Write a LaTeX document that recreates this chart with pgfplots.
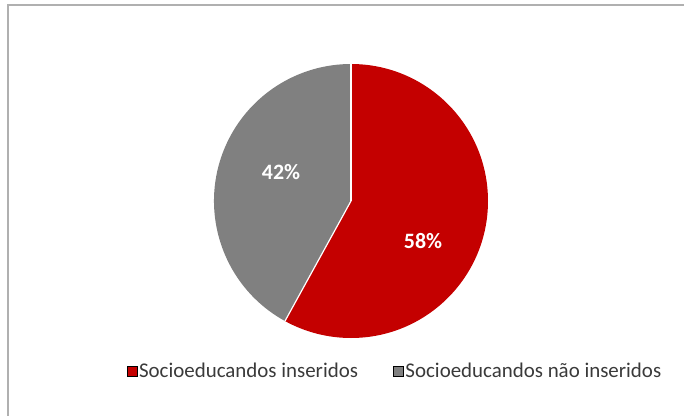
\documentclass[border=0pt]{standalone}
\usepackage{pgfplots}
\pgfplotsset{compat=1.18}
\usepackage{pgfplotstable}
\usepackage{fontspec}
\setmainfont{Carlito}
\definecolor{pieRed}{HTML}{C40000}
\definecolor{pieGray}{HTML}{808080}
\definecolor{frameGray}{HTML}{B0B0B0}
\definecolor{txtGray}{HTML}{3A3A3A}
\pgfplotstableread{
label value
inseridos 58
naoinseridos 42
}\piedata
\begin{document}
\begin{tikzpicture}
\pgfplotstablegetelem{0}{value}\of\piedata \edef\va{\pgfplotsretval}
\pgfplotstablegetelem{1}{value}\of\piedata \edef\vb{\pgfplotsretval}
\pgfmathsetmacro{\aend}{90-3.6*\va}
\pgfmathsetmacro{\bend}{\aend-3.6*\vb}
\begin{axis}[
  anchor=origin, at={(0,0)},
  x=1bp, y=1bp,
  xmin=0, xmax=684, ymin=0, ymax=416,
  hide axis, clip=false,
  legend columns=2,
  legend style={draw=none, fill=none, at={(axis cs:395,45)}, anchor=center,
    font=\fontsize{21}{23}\selectfont\color{txtGray},
    /tikz/every even column/.append style={column sep=33bp}},
  legend image code/.code={\fill[#1] (-2bp,-5bp) rectangle (8bp,5bp);},
]
\addlegendimage{fill=pieRed}
\addlegendentry{Socioeducandos inseridos}
\addlegendimage{fill=pieGray}
\addlegendentry{Socioeducandos não inseridos}
% frame (top and left)
\draw[frameGray, line width=2bp] (axis cs:8,0) -- (axis cs:8,410.5) -- (axis cs:684,410.5);
% pie
\fill[pieRed] (axis cs:351,215) -- ++(90:137bp) arc[start angle=90, end angle=\aend, radius=137bp] -- cycle;
\fill[pieGray] (axis cs:351,215) -- ++(\aend:137bp) arc[start angle=\aend, end angle=\bend, radius=137bp] -- cycle;
\draw[white, line width=1.2bp] (axis cs:351,215) -- ++(90:137bp);
\draw[white, line width=1.2bp] (axis cs:351,215) -- ++(\aend:137bp);
\node[white, font=\fontsize{22}{24}\selectfont\bfseries] at (axis cs:423,175) {\va\%};
\node[white, font=\fontsize{22}{24}\selectfont\bfseries] at (axis cs:281,244) {\vb\%};
\end{axis}
\pgfresetboundingbox
\path (0,0) rectangle (684bp,416bp);
\end{tikzpicture}
\end{document}
